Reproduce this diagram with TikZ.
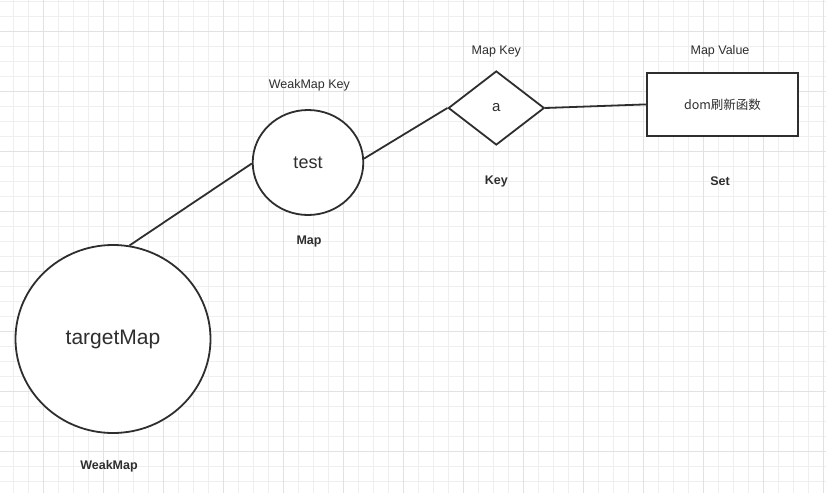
\documentclass[tikz,border=0pt]{standalone}
\usepackage{fontspec}
\setmainfont{Liberation Sans}
\newfontfamily\cjk{Noto Sans CJK SC}
\usetikzlibrary{shapes.geometric}
\definecolor{ink}{HTML}{2E2E2E}
\definecolor{gridminor}{HTML}{EFEFEF}
\definecolor{gridmajor}{HTML}{E2E2E2}
\begin{document}
\begin{tikzpicture}[x=1pt,y=-1pt,
  shapeline/.style={draw=ink, line width=1.8pt, fill=white, text=ink, inner sep=0pt},
  conn/.style={draw=ink, line width=1.8pt},
  lbl/.style={text=ink, font=\fontsize{12.5}{14}\selectfont, inner sep=0pt},
  blbl/.style={text=ink, font=\fontsize{12.5}{14}\selectfont\bfseries, inner sep=0pt},
  minorgrid/.style={draw=gridminor, line width=0.8pt},
  majorgrid/.style={draw=gridmajor, line width=0.9pt}]
\useasboundingbox[fill=white] (0,0) rectangle (826,493);
% grid
\foreach \i in {0,...,54} {
  \draw[minorgrid] ({13.33+15*\i},0) -- ({13.33+15*\i},493);
}
\foreach \i in {0,...,32} {
  \draw[minorgrid] (0,{1.67+15*\i}) -- (826,{1.67+15*\i});
}
\foreach \i in {0,...,13} {
  \draw[majorgrid] ({43.33+60*\i},0) -- ({43.33+60*\i},493);
}
\foreach \i in {0,...,8} {
  \draw[majorgrid] (0,{31.67+60*\i}) -- (826,{31.67+60*\i});
}
% shapes
\node[shapeline, ellipse, minimum width=195pt, minimum height=188pt,
      font=\fontsize{21}{24}\selectfont] (tm) at (113,339) {targetMap};
\node[shapeline, ellipse, minimum width=110.6pt, minimum height=105pt,
      font=\fontsize{18}{21}\selectfont] (test) at (308,162.5) {test};
\node[shapeline, diamond, aspect=1.3, minimum width=96pt, minimum height=74pt,
      font=\fontsize{15}{18}\selectfont] (dia) at (496.3,108) {a};
\node[shapeline, rectangle, minimum width=151.6pt, minimum height=63.3pt,
      font=\fontsize{12.5}{14}\selectfont\cjk] (val) at (722.5,104.4) {dom刷新函数};
% labels
\node[lbl] (lwk) at (309.3,85) {WeakMap Key};
\node[blbl] (lmap) at (309,241) {Map};
\node[lbl] (lmk) at (496.3,51.5) {Map Key};
\node[blbl] (lkey) at (496.3,181) {Key};
\node[lbl] (lmv) at (720,51.5) {Map Value};
\node[blbl] (lset) at (720,181) {Set};
\node[blbl] (lweak) at (109,466) {WeakMap};
% connectors
\draw[conn] (tm.80) -- (test.181);
\draw[conn] (test.4) -- (dia.west);
\draw[conn] (dia.east) -- (val.west);
\end{tikzpicture}
\end{document}
